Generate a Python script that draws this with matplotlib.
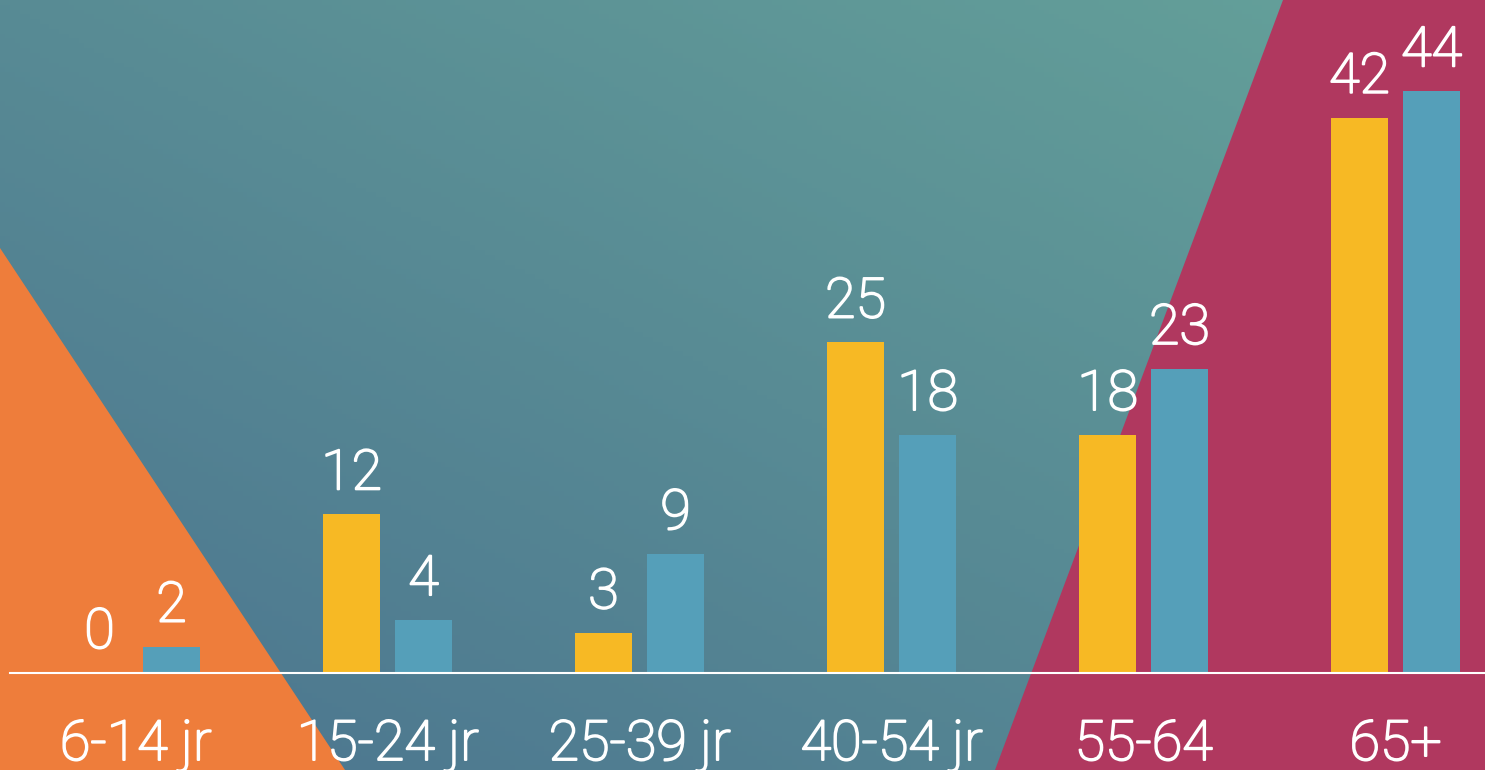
import numpy as np
import matplotlib
matplotlib.use("Agg")
from matplotlib import pyplot as plt
from matplotlib.patches import Polygon
import matplotlib.patheffects as pe

# data
categories = ["6-14 jr", "15-24 jr", "25-39 jr", "40-54 jr", "55-64", "65+"]
series_a = [0, 12, 3, 25, 18, 42]   # yellow
series_b = [2, 4, 9, 18, 23, 44]    # blue

yellow = "#F7B924"
blue = "#559FB9"
orange = "#EE7D3B"
crimson = "#B0385F"

W, H = 1485, 770
fig = plt.figure(figsize=(W / 100, H / 100), dpi=100)

# background layer in pixel coords
bg = fig.add_axes([0, 0, 1, 1])
bg.set_xlim(0, W)
bg.set_ylim(H, 0)
bg.axis("off")

c0 = np.array([0x4B, 0x74, 0x8F]) / 255
c1 = np.array([0x65, 0xA2, 0x9A]) / 255
xx, yy = np.meshgrid(np.linspace(0, 1, 300), np.linspace(1, 0, 160))
t = 0.5 * (xx + yy)
grad = c0 + t[..., None] * (c1 - c0)
bg.imshow(grad, extent=[0, W, H, 0], aspect="auto", zorder=0)

bg.add_patch(Polygon([(0, 248), (0, H), (345, H)], closed=True,
                     facecolor=orange, edgecolor="none", zorder=1))
bg.add_patch(Polygon([(1283, 0), (W, 0), (W, H), (995, H)], closed=True,
                     facecolor=crimson, edgecolor="none", zorder=1))

# chart layer
px_per_unit = 13.22
base_px = 673
ax = fig.add_axes([0, (H - base_px) / H, 1, base_px / H])
ax.patch.set_alpha(0)
step = 252
ax.set_xlim(-135.5 / step, (W - 135.5) / step)
ax.set_ylim(0, base_px / px_per_unit)
ax.axis("off")

x = np.arange(len(categories))
bw = 57 / step
off = 36 / step
ax.bar(x - off, series_a, bw, color=yellow, zorder=3)
ax.bar(x + off, series_b, bw, color=blue, zorder=3)

ax.axhline(0, xmin=10 / W, xmax=1, color="white", lw=1.5, clip_on=False, zorder=4)

# thin face thickened a little to look like the light weight
thick = [pe.Stroke(linewidth=1.4, foreground="white"), pe.Normal()]
font = dict(family=["Roboto", "DejaVu Sans"], fontweight="light", color="white",
            fontsize=40, path_effects=thick)
for xi, a, b in zip(x, series_a, series_b):
    ax.annotate(str(a), (xi - off, a), xytext=(0, 18), textcoords="offset points",
                ha="center", va="baseline", **font)
    ax.annotate(str(b), (xi + off, b), xytext=(0, 18), textcoords="offset points",
                ha="center", va="baseline", **font)

for xi, lab in zip(x, categories):
    ax.text(xi, -87 / px_per_unit, lab, ha="center", va="baseline", clip_on=False, **font)

fig.savefig("out.png", dpi=100)
